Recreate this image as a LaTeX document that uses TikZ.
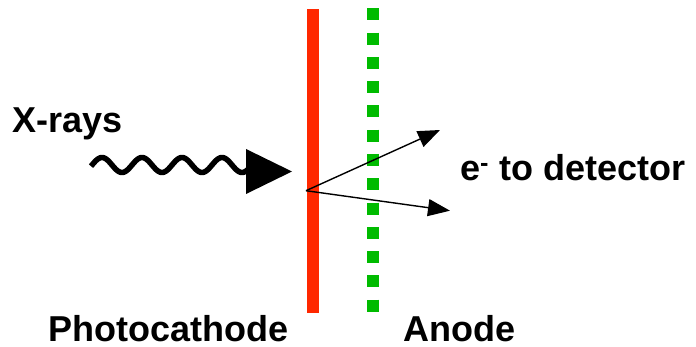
\documentclass[tikz,border=0pt]{standalone}
\usepackage{fontspec}
\setmainfont{Liberation Sans}
\usetikzlibrary{arrows.meta}
\definecolor{cathodered}{RGB}{255,40,0}
\definecolor{anodegreen}{RGB}{0,187,0}
\tikzset{
  lbl/.style={inner sep=0pt, anchor=base west, font=\fontsize{36}{40}\selectfont\bfseries},
  ray/.style={line width=1.4pt, -{Triangle[length=22pt,width=17pt]}},
}
\begin{document}
\begin{tikzpicture}[x=1pt,y=-1pt]
\useasboundingbox (0,0) rectangle (696,347);
% photocathode
\fill[cathodered] (307,9) rectangle (319,313);
% anode (dotted)
\draw[anodegreen, line width=12pt, dash pattern=on 12pt off 12.28pt] (373,8.3) -- (373,311.7);
% x-ray wave
\coordinate (w0) at (92,165);
\coordinate (wtip) at (292,171.5);
\draw[line width=5.5pt, line join=round] plot[domain=91:248, samples=200] ({\x},{165-7.5*sin((\x-92)*9)});
\fill (246,149) -- (246,194) -- (wtip) -- cycle;
% electrons
\coordinate (o) at (306,190.7);
\coordinate (t1) at (440,130);
\coordinate (t2) at (450,210.7);
\draw[ray] (o) -- (t1);
\draw[ray] (o) -- (t2);
% labels
\node[lbl] (xr) at (12,133) {X-rays};
\node[lbl] (ed) at (460,181) {e\textsuperscript{-} to detector};
\node[lbl] (pc) at (48,341.5) {Photocathode};
\node[lbl] (an) at (403,341.5) {Anode};
\end{tikzpicture}
\end{document}
